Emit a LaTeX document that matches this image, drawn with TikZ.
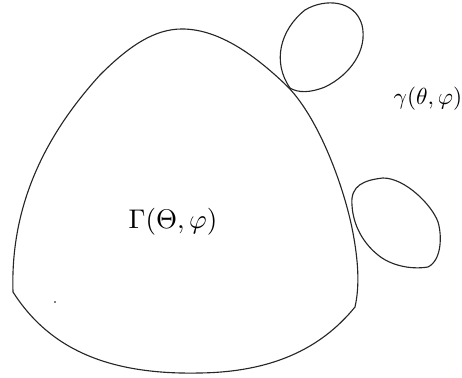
\documentclass[tikz,border=0pt]{standalone}
\begin{document}
\begin{tikzpicture}[x=0.4pt,y=-0.4pt,
  curve/.style={draw=black!85,line width=0.45pt},
  lbl/.style={inner sep=0pt}]
\useasboundingbox (0,0) rectangle (462,378);
% big region
\draw[curve] (13,292) .. controls (10,200) and (50,130) .. (100,75)
  .. controls (130,45) and (155,29) .. (182,29)
  .. controls (215,29) and (250,50) .. (288,87)
  .. controls (320,120) and (345,190) .. (353,233)
  .. controls (358,260) and (360,285) .. (355,307)
  .. controls (320,350) and (270,372) .. (200,373)
  .. controls (110,375) and (50,350) .. (13,292) -- cycle;
% upper small region
\draw[curve] (290,88) .. controls (272,62) and (280,30) .. (305,10)
  .. controls (325,-2) and (355,0) .. (362,25)
  .. controls (368,50) and (350,75) .. (325,87)
  .. controls (310,93) and (298,93) .. (290,88) -- cycle;
% right small region
\draw[curve] (352,205) .. controls (350,185) and (365,180) .. (383,178)
  .. controls (405,178) and (432,205) .. (438,222)
  .. controls (442,235) and (442,260) .. (428,267)
  .. controls (410,270) and (390,265) .. (378,255)
  .. controls (363,243) and (353,225) .. (352,205) -- cycle;
\fill[black] (55,302) circle (0.9);
\node[lbl,scale=1.08] (G) at (173,222) {$\Gamma(\Theta,\varphi)$};
\node[lbl,scale=0.93] (g) at (428,99) {$\gamma(\theta,\varphi)$};
\end{tikzpicture}
\end{document}
